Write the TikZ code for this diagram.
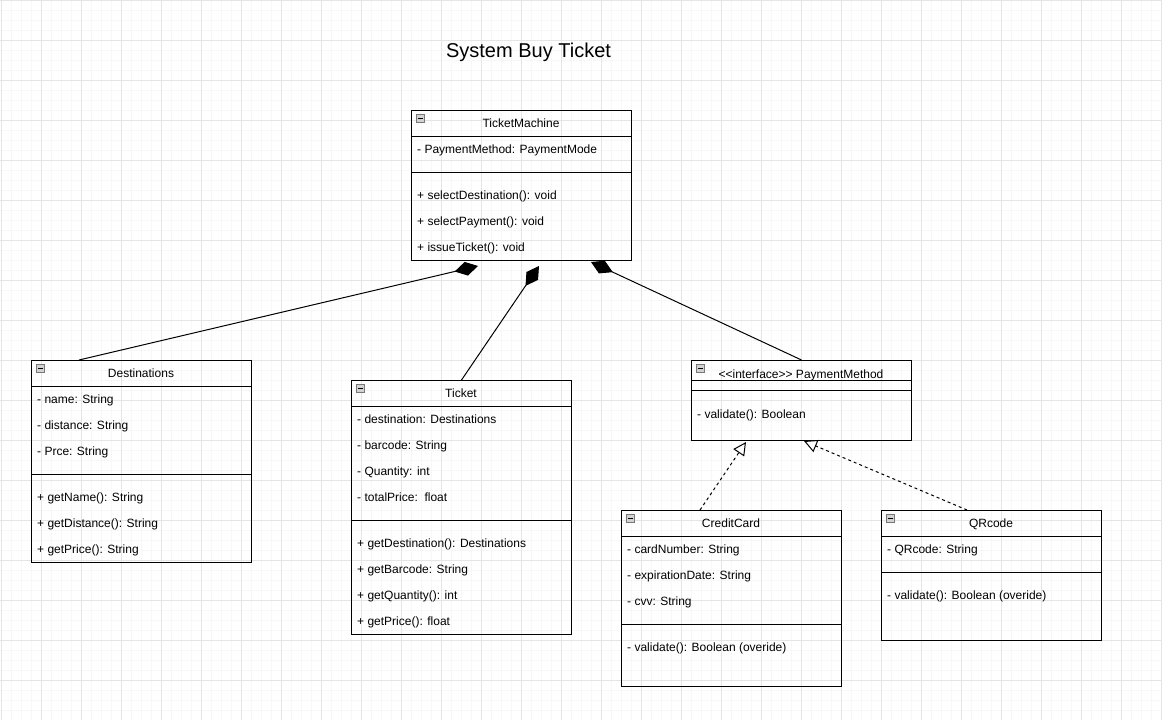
\documentclass[tikz,border=0pt]{standalone}
\usepackage{fontspec}
\setmainfont{Liberation Sans}
\usetikzlibrary{positioning,arrows.meta,calc}
\definecolor{GridMinor}{RGB}{247,247,247}
\definecolor{GridMajor}{RGB}{229,229,229}
\definecolor{FoldFill}{RGB}{210,210,210}
\definecolor{FoldBorder}{RGB}{120,120,120}
\newcommand{\umlfont}{\fontsize{12}{14}\selectfont}
\tikzset{
  % class box
  umlbox/.style={
    draw=black,
    line width=1pt,
    minimum width=220pt,
    inner sep=0pt,
    anchor=north west
  },
  % class name
  umlhead/.style={
    font=\umlfont,
    inner sep=0pt,
    yshift=-1.8pt,
    text height=8.6pt,
    text depth=2.5pt
  },
  % attribute or method row
  umlrow/.style={
    font=\umlfont,
    inner sep=0pt,
    anchor=west,
    yshift=-1.8pt,
    text height=8.6pt,
    text depth=2.5pt
  },
  % compartment line
  umlsep/.style={draw=black, line width=1pt},
  % collapse icon
  fold/.style={
    draw=FoldBorder,
    fill=FoldFill,
    line width=0.8pt,
    minimum size=8pt,
    inner sep=0pt,
    anchor=north west,
    path picture={\draw[black, line width=1pt]
      ([xshift=1.8pt]path picture bounding box.west) --
      ([xshift=-1.8pt]path picture bounding box.east);}
  },
  % composition
  comp/.style={
    draw=black,
    line width=1pt,
    -{Diamond[length=24pt, width=14pt]}
  },
  % realization
  realize/.style={
    draw=black,
    line width=1pt,
    dash pattern=on 3pt off 3pt,
    -{Triangle[open, length=13pt, width=13pt, fill=white]}
  },
  % background grid
  gridminor/.style={draw=GridMinor, line width=1pt},
  gridmajor/.style={draw=GridMajor, line width=1pt}
}

\begin{document}
\begin{tikzpicture}[x=1pt, y=-1pt]
  \useasboundingbox (0,0) rectangle (1162,720);
  \fill[white] (0,0) rectangle (1162,720);
  \foreach \gx in {1,11,...,1161} \draw[gridminor] (\gx,0) -- (\gx,720);
  \foreach \gy in {0,10,...,720} \draw[gridminor] (0,\gy) -- (1162,\gy);
  \foreach \gx in {1,41,...,1161} \draw[gridmajor] (\gx,0) -- (\gx,720);
  \foreach \gy in {0,40,...,720} \draw[gridmajor] (0,\gy) -- (1162,\gy);

  \node[font=\fontsize{20}{24}\selectfont, inner sep=0pt, yshift=-2pt] (title) at (528.5,50) {System Buy Ticket};

  % TicketMachine
  \node[umlbox, minimum height=150pt] (tm) at (411,110) {};
  \node[fold] (tmF) at (416,114) {};
  \node[umlhead] (tmH) at (521,123) {TicketMachine};
  \draw[umlsep] (411,136) -- (631,136);
  \node[umlrow] (tmA1) at (417,149) {- PaymentMethod: PaymentMode};
  \draw[umlsep] (411,172) -- (631,172);
  \foreach \t [count=\k] in {{+ selectDestination(): void},{+ selectPayment(): void},{+ issueTicket(): void}}
    \node[umlrow] (tmM\k) at (417,{195+26*(\k-1)}) {\t};

  % Destinations
  \node[umlbox, minimum height=202pt] (dest) at (31,360) {};
  \node[fold] (destF) at (36,364) {};
  \node[umlhead] (destH) at (141,373) {Destinations};
  \draw[umlsep] (31,386) -- (251,386);
  \foreach \t [count=\k] in {{- name: String},{- distance: String},{- Prce: String}}
    \node[umlrow] (destA\k) at (37,{399+26*(\k-1)}) {\t};
  \draw[umlsep] (31,474.5) -- (251,474.5);
  \foreach \t [count=\k] in {{+ getName(): String},{+ getDistance(): String},{+ getPrice(): String}}
    \node[umlrow] (destM\k) at (37,{497+26*(\k-1)}) {\t};

  % Ticket
  \node[umlbox, minimum height=254pt] (ticket) at (351,380) {};
  \node[fold] (ticketF) at (356,384) {};
  \node[umlhead] (ticketH) at (461,393) {Ticket};
  \draw[umlsep] (351,406) -- (571,406);
  \foreach \t [count=\k] in {{- destination: Destinations},{- barcode: String},{- Quantity: int},{- totalPrice:\ \ float}}
    \node[umlrow] (ticketA\k) at (357,{419+26*(\k-1)}) {\t};
  \draw[umlsep] (351,520) -- (571,520);
  \foreach \t [count=\k] in {{+ getDestination(): Destinations},{+ getBarcode: String},{+ getQuantity(): int},{+ getPrice(): float}}
    \node[umlrow] (ticketM\k) at (357,{543+26*(\k-1)}) {\t};

  % PaymentMethod
  \node[umlbox, minimum height=80pt] (pm) at (691,360) {};
  \node[fold] (pmF) at (696,364) {};
  \node[umlhead] (pmH) at (801,374) {<\kern0pt<interface>\kern0pt> PaymentMethod};
  \draw[umlsep] (691,380.5) -- (911,380.5);
  \draw[umlsep] (691,390.5) -- (911,390.5);
  \node[umlrow] (pmM1) at (697,413.5) {- validate(): Boolean};

  % CreditCard
  \node[umlbox, minimum height=176pt] (cc) at (621,510) {};
  \node[fold] (ccF) at (626,514) {};
  \node[umlhead] (ccH) at (731,523) {CreditCard};
  \draw[umlsep] (621,536) -- (841,536);
  \foreach \t [count=\k] in {{- cardNumber: String},{- expirationDate: String},{- cvv: String}}
    \node[umlrow] (ccA\k) at (627,{549+26*(\k-1)}) {\t};
  \draw[umlsep] (621,624.5) -- (841,624.5);
  \node[umlrow] (ccM1) at (627,647) {- validate(): Boolean (overide)};

  % QRcode
  \node[umlbox, minimum height=130pt] (qr) at (881,510) {};
  \node[fold] (qrF) at (886,514) {};
  \node[umlhead] (qrH) at (991,523) {QRcode};
  \draw[umlsep] (881,536) -- (1101,536);
  \node[umlrow] (qrA1) at (887,549) {- QRcode: String};
  \draw[umlsep] (881,572) -- (1101,572);
  \node[umlrow] (qrM1) at (887,595) {- validate(): Boolean (overide)};

  % connectors
  \draw[comp] ($(dest.north west)+(48,0)$) -- ($(tm.south west)+(67,5)$);
  \draw[comp] (ticket.north) -- ($(tm.south west)+(128,5)$);
  \draw[comp] (pm.north) -- ($(tm.south west)+(180,1)$);
  \draw[realize] ($(cc.north west)+(79,0)$) -- ($(pm.south west)+(55,1)$);
  \draw[realize] ($(qr.north west)+(86,0)$) -- ($(pm.south west)+(113,0)$);
\end{tikzpicture}
\end{document}
